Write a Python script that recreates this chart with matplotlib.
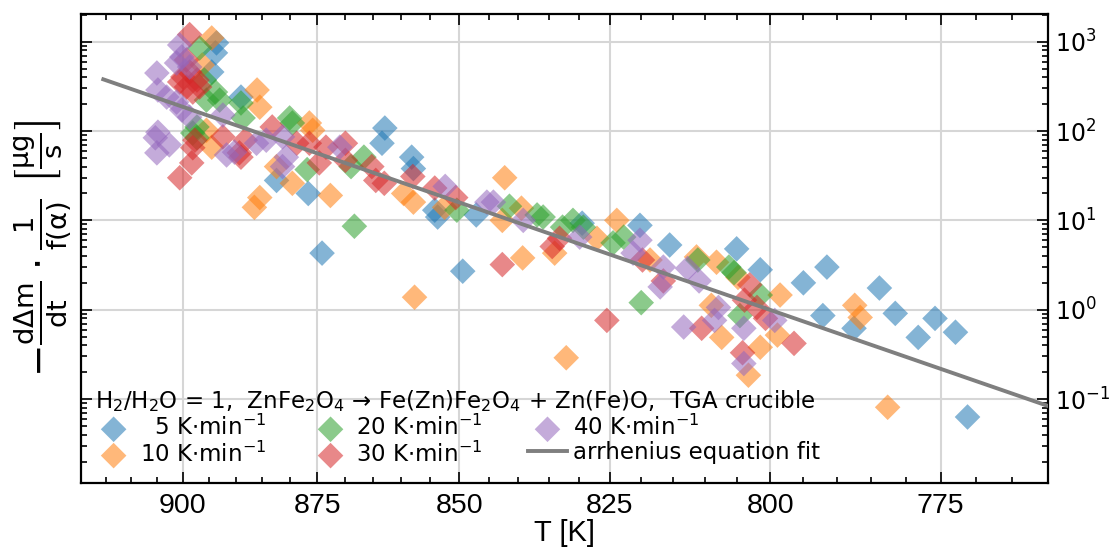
import numpy as np
import matplotlib
matplotlib.use("Agg")
import matplotlib.pyplot as plt
from matplotlib.ticker import FixedLocator, NullFormatter, LogLocator, LogFormatterSciNotation

plt.rcParams['font.family'] = ['DejaVu Sans']
plt.rcParams['mathtext.default'] = 'regular'

# ---- data (T in K, rate in ug/s) ----
T_5 = [893.6, 893.8, 894.5, 889.0, 882.4, 876.6, 874.1, 862.9, 863.4, 858.2, 857.9,
       854.2, 853.7, 847.1, 849.4, 829.5, 820.2, 815.5, 805.1, 801.5, 795.0, 791.5,
       792.1, 787.5, 783.8, 781.5, 778.2, 775.8, 772.9, 771.2]
y_5 = [970, 750, 458, 240, 28, 20, 4.3, 108, 73, 51, 38,
       13, 10.9, 11.5, 2.7, 9.3, 8.8, 5.3, 4.8, 2.8, 2.0, 3.0,
       0.86, 0.62, 1.75, 0.91, 0.49, 0.80, 0.56, 0.063]

T_10 = [894.5, 896.3, 886.0, 885.5, 895.5, 894.5, 885.5, 886.5, 882.4, 879.5,
        872.6, 876.4, 875.8, 859.6, 857.9, 857.7, 842.3, 839.5, 839.3, 834.0,
        842.7, 832.1, 827.1, 823.9, 811.3, 808.2, 804.9, 798.5, 809.0, 807.4,
        801.5, 798.9, 803.3, 787.4, 786.6, 782.6, 818.6, 852.5]
y_10 = [1100, 548, 288, 185, 102, 66, 18, 14, 40, 26,
        19, 123, 102, 20, 16, 1.38, 30, 13.7, 3.8, 4.3,
        10, 0.29, 6.3, 10, 3.9, 3.4, 2.3, 1.46, 1.12, 0.49,
        0.38, 0.52, 0.185, 1.12, 0.82, 0.081, 3.6, 14]

T_20 = [896.8, 895.9, 893.8, 893.0, 895.5, 889.0, 888.6, 897.3, 898.1, 897.3,
        880.0, 879.5, 876.8, 868.9, 866.6, 868.3, 850.4, 841.5, 836.9, 835.9,
        831.0, 829.3, 832.7, 824.5, 822.8, 811.1, 806.3, 805.5, 801.5, 804.6, 820.0]
y_20 = [850, 372, 273, 222, 222, 206, 140, 111, 95, 84,
        140, 123, 37, 40, 51, 8.6, 13, 14.4, 11.5, 10.9,
        10, 8.4, 8.4, 5.6, 6.5, 3.6, 3.0, 2.6, 1.46, 0.86, 1.2]

T_30 = [898.7, 899.3, 898.7, 900.0, 897.3, 899.3, 898.1, 896.8, 900.6, 897.7,
        898.1, 898.3, 900.6, 889.0, 889.3, 892.4, 888.2, 883.2, 878.7, 876.4,
        873.4, 869.9, 865.2, 864.5, 869.9, 874.6, 863.0, 858.0, 854.2, 850.6,
        842.7, 834.4, 833.2, 819.8, 825.5, 816.5, 803.1, 803.9, 802.0, 810.5,
        800.7, 796.4, 804.2]
y_30 = [1200, 624, 458, 403, 372, 311, 273, 311, 354, 79,
        65, 44, 30, 51, 57, 86, 79, 111, 73, 73,
        66, 73, 40, 28, 47, 44, 26, 31, 23, 18,
        3.2, 5.1, 6.3, 3.6, 0.76, 2.1, 1.9, 1.28, 1.06, 0.62,
        0.8, 0.42, 0.33]

T_40 = [905.0, 904.8, 903.1, 901.2, 900.6, 900.2, 901.2, 898.7, 904.8, 905.3,
        902.6, 905.0, 900.2, 898.7, 892.4, 891.7, 890.2, 886.1, 884.3, 881.3,
        881.3, 880.6, 870.9, 852.4, 845.3, 844.2, 839.2, 829.9, 820.2, 821.3,
        816.5, 812.7, 810.9, 817.0, 807.9, 808.5, 813.3, 804.0, 799.3, 804.0]
y_40 = [446, 288, 240, 211, 918, 675, 577, 521, 97, 84,
        70, 57, 172, 143, 151, 54, 58, 73, 79, 86,
        40, 51, 66, 24, 16, 16, 10, 6.5, 6.0, 4.3,
        3.0, 2.9, 2.1, 1.8, 1.06, 0.76, 0.64, 0.62, 0.76, 0.25]

fit_T = [915.5, 760.0]
fit_y = [379, 0.0835]

series = [
    (T_5, y_5, '5'),
    (T_10, y_10, '10'),
    (T_20, y_20, '20'),
    (T_30, y_30, '30'),
    (T_40, y_40, '40'),
]
colors = ['#1f77b4', '#ff7f0e', '#2ca02c', '#d62728', '#9467bd']

major_T = [900, 875, 850, 825, 800, 775]
T_left, T_right = 920, 760
y_major = [0.1, 1, 10, 100, 1000]


def inv(T):
    return 1000.0 / np.asarray(T, dtype=float)


fig = plt.figure(figsize=(11.13, 5.52), dpi=100)
ax = fig.add_axes([0.0725, 0.125, 0.8694, 0.8496])

for (T, y, lab), c in zip(series, colors):
    pad = '  ' if len(lab) == 1 else ''
    ax.scatter(inv(T), y, marker='D', s=170, color=c, alpha=0.55,
               edgecolors='none', label=pad + lab + r' K$\cdot$min$^{-1}$', zorder=2)

ax.plot(inv(fit_T), fit_y, color='#7f7f7f', lw=2.8, zorder=3,
        label='arrhenius equation fit')

ax.set_yscale('log')
ax.set_xlim(inv(T_left), inv(T_right))
ax.set_ylim(0.0115, 2040)

ax.xaxis.set_major_locator(FixedLocator(inv(major_T)))
ax.set_xticklabels([str(t) for t in major_T])
minor_T = [t for t in range(T_right, T_left + 1, 5) if t not in major_T]
ax.xaxis.set_minor_locator(FixedLocator(inv(minor_T)))
ax.xaxis.set_minor_formatter(NullFormatter())

ax.yaxis.set_major_locator(FixedLocator(y_major))
ax.yaxis.set_major_formatter(LogFormatterSciNotation())
ax.yaxis.set_minor_locator(LogLocator(base=10, subs=np.arange(2, 10), numticks=10))
ax.yaxis.set_minor_formatter(NullFormatter())

ax.tick_params(which='both', direction='in', top=True, bottom=True,
               left=True, right=True, labelleft=False, labelright=True, width=1.2)
ax.tick_params(which='major', length=8)
ax.tick_params(which='minor', length=4)
ax.tick_params(axis='x', labelsize=20.5, pad=7, labelfontfamily='Liberation Sans')
ax.tick_params(axis='y', labelsize=17, pad=5)

for sp in ax.spines.values():
    sp.set_linewidth(1.6)

ax.grid(True, which='major', color='#d6d6d6', lw=1.5, zorder=0)
ax.set_axisbelow(True)

ax.set_xlabel('T [K]', fontsize=21, labelpad=0, family='Liberation Sans')
ax.yaxis.set_label_position('left')
ax.set_ylabel(r'$-\frac{d\Delta m}{dt}\cdot\frac{1}{f(\alpha)}\ \left[\frac{\mu g}{s}\right]$',
              fontsize=28, labelpad=4)

title = (r'H$_2$/H$_2$O = 1,  ZnFe$_2$O$_4$ → Fe(Zn)Fe$_2$O$_4$ + Zn(Fe)O,  TGA crucible')
leg = ax.legend(loc='lower left', bbox_to_anchor=(0.012, 0.03), ncol=3, frameon=False,
                title=title, title_fontsize=16.5, fontsize=16.5, alignment='left',
                handletextpad=0.3, columnspacing=2.0, labelspacing=0.05,
                borderpad=0.1, borderaxespad=0.0, handlelength=1.66)

fig.savefig('out.png', dpi=100)
